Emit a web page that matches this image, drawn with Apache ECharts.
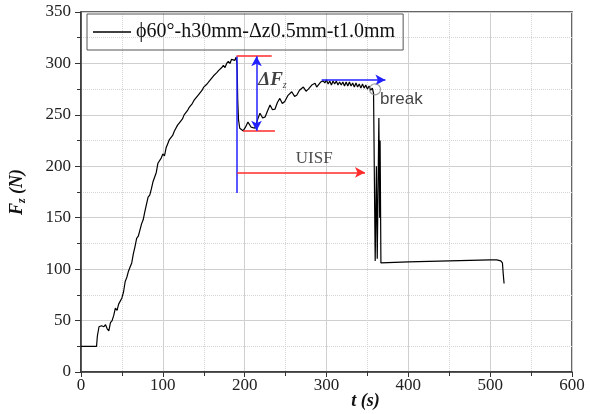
<!DOCTYPE html>
<html>
<head>
<meta charset="utf-8">
<script src="https://cdn.jsdelivr.net/npm/echarts@6/dist/echarts.min.js"></script>
<style>
  html, body { margin: 0; padding: 0; background: #fff; }
  #chart { width: 590px; height: 414px; }
</style>
</head>
<body>
<div id="chart"></div>
<script>
// force curve, [t (s), Fz (N)]
const seriesName = 'ϕ60°-h30mm-Δz0.5mm-t1.0mm';
const forceData = [
  [0, 25], [19, 25], [20, 35], [22, 44], [25, 45], [28, 44], [30, 46], [32, 42], [34, 40],
  [36, 48], [38, 50], [40, 55], [42, 62], [44, 60], [46, 66], [48, 65], [50, 72], [52, 78],
  [54, 88], [56, 92], [58, 98], [60, 102], [62, 106], [64, 115], [66, 122], [68, 130],
  [70, 132], [72, 138], [74, 144], [76, 148], [78, 156], [80, 163], [82, 170], [84, 172],
  [86, 178], [88, 185], [90, 186], [92, 194], [94, 203], [96, 204], [98, 208], [100, 212],
  [102, 210], [104, 218], [106, 222], [108, 226], [110, 225], [112, 230], [114, 234],
  [116, 234], [118, 240], [120, 242], [122, 241], [124, 246], [126, 250], [128, 249],
  [130, 254], [132, 257], [134, 256], [136, 261], [138, 264], [140, 263], [142, 268],
  [144, 270], [146, 269], [148, 274], [150, 277], [152, 276], [154, 280], [156, 282],
  [158, 281], [160, 286], [162, 288], [164, 287], [166, 291], [168, 293], [170, 292],
  [172, 296], [174, 298], [176, 296], [178, 300], [180, 302], [182, 300], [184, 304],
  [186, 305], [188, 303], [189.5, 306], [190.5, 300], [191, 289], [191.5, 265], [192.5, 245],
  [194, 237], [196, 236], [198, 234.5], [201, 238], [204, 243], [208, 238], [212.5, 237],
  [216, 246], [218.7, 251.5], [222, 247], [225, 248], [228, 254], [231, 259.5], [234, 255],
  [237, 255.5], [240, 262], [243, 266], [246, 261], [249, 263], [253, 269], [257.5, 272.5],
  [261, 268], [263.6, 269], [267, 274], [271.7, 277], [275, 273], [277.8, 275], [282, 279],
  [286, 280.7], [288, 277], [290, 278], [293, 282], [296, 283], [298, 281], [300, 284],
  [302, 280], [304, 283], [306, 279], [308, 283], [310, 280], [312, 283], [314, 279],
  [316, 282], [318, 279], [320, 282], [322, 278], [324, 282], [326, 278], [328, 282],
  [330, 278], [332, 281], [334, 277], [336, 281], [338, 277], [340, 280], [342, 276],
  [344, 280], [346, 276], [348, 279], [350, 275], [352, 278], [354, 274], [356, 276],
  [357.5, 271], [359.5, 108], [361, 200], [362, 110], [364, 247], [365, 150], [365.5, 225],
  [366.5, 106], [367.5, 105.5], [400, 107], [450, 108], [500, 109], [508, 109], [513, 108],
  [515, 106], [516, 95], [517, 86]
];

// annotation lines [[t1, F1], [t2, F2]]
const bluePlain = [[190, 307], [190, 174]];
const redTop = [[190, 307], [233, 307]];
const redBottom = [[198, 234.5], [237, 234.5]];
const deltaArrow = [[214.5, 307], [214.5, 234.5]];
const plateauArrow = [[294, 284], [372, 284]];
const uisfArrow = [[191, 194], [347, 194]];
const breakPoint = [359.3, 274.8];

// text notes
const noteDelta = [234, 284];
const noteUisf = [285, 208];
const noteBreak = [365.5, 265];

const serif = 'Liberation Serif';
const chart = echarts.init(document.getElementById('chart'));

function seg(pts, color, arrows) {
  return [
    { coord: pts[0], symbol: arrows[0], lineStyle: { color: color } },
    { coord: pts[1], symbol: arrows[1] }
  ];
}

const option = {
  animation: false,
  grid: {
    left: 81, right: 18, top: 12, bottom: 42,
    outerBoundsMode: 'none',
    containLabel: false,
    show: true, borderColor: '#333', borderWidth: 1.5
  },
  legend: {
    data: [{ name: seriesName, icon: 'rect' }],
    left: 87, top: 14,
    padding: [8, 8, 8, 6],
    borderColor: '#555', borderWidth: 1,
    itemWidth: 38, itemHeight: 1.4, itemGap: 6,
    textStyle: { fontFamily: serif, fontSize: 20, color: '#111' }
  },
  xAxis: {
    type: 'value', min: 0, max: 600, interval: 100,
    name: 't (s)', nameLocation: 'middle', nameGap: 20, nameMoveOverlap: false,
    nameTextStyle: { fontFamily: serif, fontSize: 18, fontStyle: 'italic', fontWeight: 'bold', color: '#111', padding: [0, 0, 0, 78] },
    axisLine: { onZero: false, lineStyle: { color: '#333', width: 1.5 } },
    axisTick: { length: 5, lineStyle: { color: '#333' } },
    minorTick: { show: true, splitNumber: 2, length: 4, lineStyle: { color: '#333' } },
    axisLabel: { fontFamily: serif, fontSize: 17, color: '#222', margin: 5 },
    splitLine: { lineStyle: { color: '#cfcfcf', width: 1 } },
    minorSplitLine: { show: true, lineStyle: { color: '#d4d4d4', type: 'dotted' } }
  },
  yAxis: {
    type: 'value', min: 0, max: 350, interval: 50,
    name: '{a|F}{s|z}{a| (N)}', nameLocation: 'middle', nameGap: 53, nameRotate: 90,
    nameTextStyle: {
      rich: {
        a: { fontFamily: serif, fontSize: 18, fontStyle: 'italic', fontWeight: 'bold', color: '#111' },
        s: { fontFamily: serif, fontSize: 12, fontStyle: 'italic', fontWeight: 'bold', color: '#111', padding: [9, 0, 0, 0] }
      }
    },
    axisLine: { lineStyle: { color: '#333', width: 1.5 } },
    axisTick: { length: 6, lineStyle: { color: '#333' } },
    minorTick: { show: true, splitNumber: 2, length: 4, lineStyle: { color: '#333' } },
    axisLabel: { fontFamily: serif, fontSize: 17, color: '#222', margin: 10 },
    splitLine: { lineStyle: { color: '#cfcfcf', width: 1 } },
    minorSplitLine: { show: true, lineStyle: { color: '#d4d4d4', type: 'dotted' } }
  },
  series: [
    {
      name: seriesName,
      type: 'line',
      data: forceData,
      symbol: 'none',
      color: '#000',
      lineStyle: { color: '#000', width: 1.2 },
      z: 3
    },
    {
      name: 'annotations',
      type: 'line',
      data: [],
      z: 4,
      markLine: {
        silent: true,
        animation: false,
        label: { show: false },
        symbolSize: [8, 10],
        lineStyle: { type: 'solid', width: 1.5 },
        data: [
          seg(bluePlain, '#2222ff', ['none', 'none']),
          seg(redTop, '#ff2a2a', ['none', 'none']),
          seg(redBottom, '#ff2a2a', ['none', 'none']),
          seg(deltaArrow, '#2222ff', ['arrow', 'arrow']),
          seg(plateauArrow, '#2222ff', ['none', 'arrow']),
          seg(uisfArrow, '#ff2a2a', ['none', 'arrow'])
        ]
      }
    },
    {
      name: 'break',
      type: 'scatter',
      data: [breakPoint],
      symbol: 'circle',
      symbolSize: 11,
      itemStyle: { color: 'rgba(0,0,0,0)', borderColor: '#888', borderWidth: 1.2 },
      z: 5
    },
    {
      name: 'notes',
      type: 'scatter',
      symbolSize: 0,
      z: 6,
      data: [
        { value: noteDelta, label: { formatter: '{d|ΔF}{s|z}', rich: {
          d: { fontFamily: serif, fontSize: 19, fontStyle: 'italic', fontWeight: 'bold', color: '#111' },
          s: { fontFamily: serif, fontSize: 10, fontStyle: 'italic', color: '#111', padding: [10, 0, 0, 0] } } } },
        { value: noteUisf, label: { formatter: 'UISF', fontFamily: serif, fontSize: 17, color: '#222' } },
        { value: noteBreak, label: { formatter: 'break', fontFamily: 'Liberation Sans', fontSize: 17, color: '#111', position: 'right', distance: 0 } }
      ],
      label: { show: true, position: 'inside' }
    }
  ]
};

chart.setOption(option);
</script>
</body>
</html>
